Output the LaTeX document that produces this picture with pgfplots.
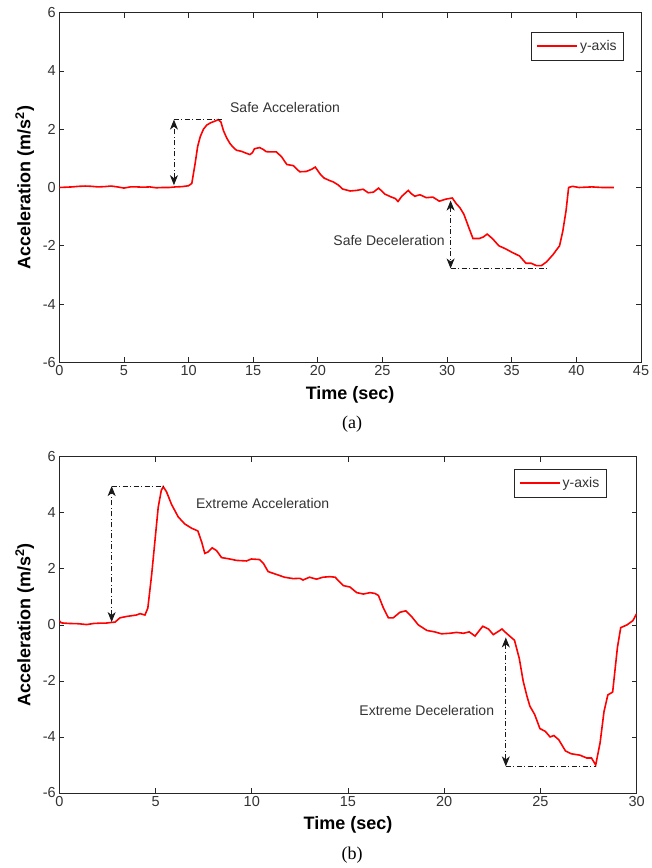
\documentclass[border=0pt]{standalone}
\usepackage{pgfplots}
\pgfplotsset{compat=1.18}
\usepackage{fontspec}
\setmainfont{Liberation Sans}
\newfontfamily\seriffont{Liberation Serif}
\usetikzlibrary{arrows.meta}
\definecolor{axgray}{HTML}{262626}
\definecolor{txtgray}{HTML}{333333}
\pgfplotsset{
  matlab/.style={
    scale only axis,
    anchor=south west,
    axis line style={axgray, line width=0.8pt},
    every tick/.style={axgray, line width=0.7pt},
    major tick length=5pt,
    tick align=inside,
    ymin=-6, ymax=6, ytick={-6,-4,...,6},
    /pgf/number format/assume math mode=true,
    tick label style={font=\fontsize{14.5}{16}\selectfont, text=txtgray},
    xlabel style={font=\fontsize{18}{20}\selectfont\bfseries, yshift=-3pt},
    ylabel style={font=\fontsize{18}{20}\selectfont\bfseries, yshift=2pt},
    ylabel={Acceleration (m/s$^{\mathbf{2}}$)},
    xlabel={Time (sec)},
    legend style={draw=axgray, line width=0.8pt, font=\fontsize{14}{16}\selectfont,
      inner xsep=5pt, inner ysep=6pt, text=txtgray},
    legend image code/.code={\draw[#1] (0pt,0pt) -- (40pt,0pt);},
    legend cell align=left,
  },
  ann/.style={black!90, dash pattern=on 5pt off 2.5pt on 1pt off 2.5pt, line width=0.8pt},
  annarrow/.style={ann, {Stealth[length=10pt,width=8pt,inset=3pt]}-{Stealth[length=10pt,width=8pt,inset=3pt]}},
}
\begin{document}
\begin{tikzpicture}[x=1pt,y=1pt]
\useasboundingbox (0,0) rectangle (651,868);
% ---------------- (a) ----------------
\begin{axis}[matlab,
  at={(59.3pt,505.7pt)}, width=581.7pt, height=349.6pt,
  xmin=0, xmax=45, xtick={0,5,...,45},
  legend style={at={(0.9708,0.9448)}, anchor=north east},
]
\addplot[red, line width=1.6pt] coordinates {
(0,0.0) (0.5,0.01) (1,0.02) (1.5,0.04) (2,0.05) (2.5,0.04) (3,0.02) (3.5,0.03) (4,0.05) (4.5,0.02) (5,-0.02) (5.5,0.02) (6,0.02) (6.5,0.01) (7,0.02) (7.5,-0.01) (8,0.0) (8.5,0.0) (9,0.02) (9.5,0.03) (10,0.06) (10.25,0.14) (10.5,0.8) (10.7,1.4) (10.9,1.74) (11.15,2.0) (11.4,2.14) (11.7,2.22) (12.0,2.27) (12.3,2.33) (12.5,2.25) (12.7,1.95) (12.95,1.7) (13.2,1.51) (13.45,1.38) (13.7,1.28) (14.1,1.24) (14.5,1.17) (14.75,1.13) (14.95,1.2) (15.1,1.33) (15.5,1.37) (15.8,1.3) (16.0,1.23) (16.4,1.22) (16.8,1.22) (17.2,1.05) (17.6,0.79) (18.1,0.75) (18.4,0.62) (18.6,0.54) (19.1,0.55) (19.5,0.62) (19.8,0.7) (20.2,0.45) (20.5,0.32) (20.9,0.24) (21.2,0.19) (21.6,0.08) (21.9,-0.05) (22.5,-0.12) (23.0,-0.1) (23.5,-0.06) (23.9,-0.18) (24.3,-0.16) (24.7,-0.02) (25.2,-0.23) (25.7,-0.33) (26.0,-0.38) (26.2,-0.48) (26.5,-0.3) (27.0,-0.1) (27.2,-0.2) (27.5,-0.3) (27.9,-0.25) (28.4,-0.35) (28.9,-0.33) (29.4,-0.47) (29.9,-0.4) (30.4,-0.36) (30.7,-0.55) (31.0,-0.7) (31.3,-0.92) (31.7,-1.4) (32.0,-1.75) (32.5,-1.75) (32.8,-1.7) (33.1,-1.6) (33.5,-1.75) (34.0,-2.0) (34.5,-2.1) (35.0,-2.22) (35.6,-2.35) (36.1,-2.6) (36.5,-2.6) (36.9,-2.68) (37.3,-2.68) (37.7,-2.55) (38.2,-2.3) (38.7,-2.0) (38.95,-1.5) (39.2,-0.8) (39.4,0.0) (39.7,0.04) (40.2,0.0) (40.7,0.01) (41.2,0.02) (42,0.0) (42.9,0.0)
};
\addlegendentry{y-axis}
\addplot[annarrow, forget plot] coordinates {(8.87,0.08) (8.87,2.33)};
\addplot[ann, forget plot] coordinates {(8.87,2.33) (12.55,2.33)};
\addplot[annarrow, forget plot] coordinates {(30.27,-0.45) (30.27,-2.78)};
\addplot[ann, forget plot] coordinates {(30.27,-2.78) (37.7,-2.78)};
\node[anchor=west, text=txtgray, font=\fontsize{14}{16}\selectfont, inner sep=0pt] at (axis cs:13.2,2.76) {Safe Acceleration};
\node[anchor=east, text=txtgray, font=\fontsize{14}{16}\selectfont, inner sep=0pt] at (axis cs:29.83,-1.83) {Safe Deceleration};
\end{axis}
\node[font=\seriffont\fontsize{18}{20}\selectfont] at (352,444) {(a)};
% ---------------- (b) ----------------
\begin{axis}[matlab,
  at={(59.3pt,75pt)}, width=577.4pt, height=336.3pt,
  xmin=0, xmax=30, xtick={0,5,...,30},
  legend style={at={(0.948,0.9634)}, anchor=north east},
]
\addplot[red, line width=1.6pt] coordinates {
(0,0.15) (0.1,0.07) (0.5,0.05) (1,0.04) (1.42,0.01) (1.8,0.05) (2.1,0.06) (2.4,0.06) (2.63,0.08) (2.9,0.1) (3.15,0.25) (3.5,0.3) (4.0,0.35) (4.2,0.4) (4.45,0.35) (4.6,0.6) (4.8,1.8) (4.97,3.0) (5.14,4.2) (5.3,4.8) (5.4,4.93) (5.57,4.75) (5.83,4.3) (6.18,3.85) (6.52,3.6) (6.87,3.45) (7.2,3.35) (7.4,2.95) (7.56,2.55) (7.73,2.6) (7.94,2.75) (8.17,2.65) (8.43,2.4) (8.86,2.35) (9.2,2.3) (9.72,2.28) (9.98,2.35) (10.4,2.33) (10.6,2.2) (10.85,1.9) (11.28,1.8) (11.7,1.7) (12.15,1.65) (12.5,1.66) (12.66,1.6) (13.0,1.7) (13.36,1.63) (13.7,1.7) (14.07,1.72) (14.33,1.7) (14.76,1.4) (15.1,1.35) (15.45,1.15) (15.8,1.1) (16.15,1.15) (16.4,1.12) (16.58,1.05) (16.84,0.6) (17.1,0.25) (17.35,0.25) (17.7,0.45) (18.0,0.5) (18.3,0.3) (18.65,0.0) (19.1,-0.2) (19.5,-0.25) (19.86,-0.32) (20.3,-0.3) (20.64,-0.27) (21.0,-0.3) (21.3,-0.25) (21.6,-0.4) (21.77,-0.25) (22.0,-0.05) (22.3,-0.15) (22.55,-0.35) (23.0,-0.15) (23.15,-0.25) (23.4,-0.4) (23.65,-0.55) (23.9,-1.2) (24.1,-2.0) (24.3,-2.55) (24.45,-2.9) (24.7,-3.2) (24.97,-3.7) (25.25,-3.8) (25.5,-4.0) (25.7,-3.95) (25.95,-4.1) (26.3,-4.5) (26.6,-4.6) (27.05,-4.65) (27.4,-4.75) (27.65,-4.75) (27.87,-5.0) (28.1,-4.2) (28.3,-3.1) (28.5,-2.5) (28.75,-2.4) (29.0,-0.8) (29.17,-0.1) (29.5,0.0) (29.8,0.15) (30,0.4)
};
\addlegendentry{y-axis}
\addplot[annarrow, forget plot] coordinates {(2.72,0.1) (2.72,4.95)};
\addplot[ann, forget plot] coordinates {(2.72,4.95) (5.4,4.95)};
\addplot[annarrow, forget plot] coordinates {(23.2,-0.45) (23.2,-5.05)};
\addplot[ann, forget plot] coordinates {(23.2,-5.05) (27.9,-5.05)};
\node[anchor=west, text=txtgray, font=\fontsize{14}{16}\selectfont, inner sep=0pt] at (axis cs:7.1,4.34) {Extreme Acceleration};
\node[anchor=east, text=txtgray, font=\fontsize{14}{16}\selectfont, inner sep=0pt] at (axis cs:22.6,-3.06) {Extreme Deceleration};
\end{axis}
\node[font=\seriffont\fontsize{18}{20}\selectfont] at (352,13) {(b)};
\end{tikzpicture}
\end{document}
